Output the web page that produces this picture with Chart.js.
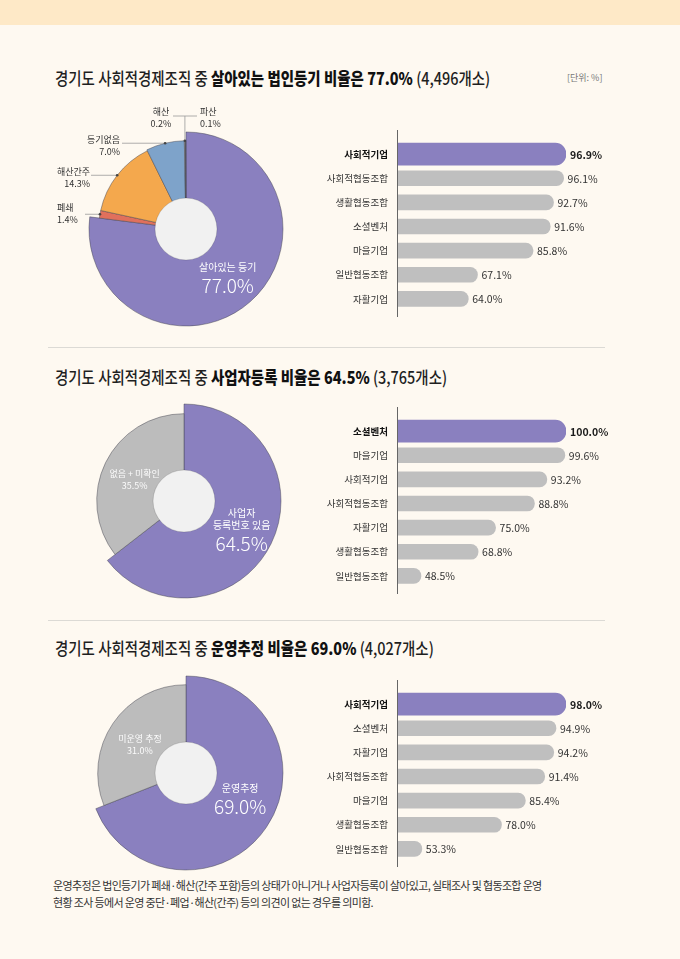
<!DOCTYPE html>
<html><head><meta charset="utf-8">
<script src="https://cdn.jsdelivr.net/npm/chart.js@4.4.1/dist/chart.umd.min.js"></script>
<style>
html,body{margin:0;padding:0;}
body{width:680px;height:959px;background:#fef9f1;position:relative;overflow:hidden;font-family:"Noto Sans CJK KR","Noto Sans",sans-serif;color:#222;}
.band{position:absolute;left:0;top:0;width:680px;height:25px;background:#fee9c7;}
.title{position:absolute;left:55px;font-size:17px;line-height:24px;font-weight:500;white-space:nowrap;transform-origin:left center;transform:scaleX(0.85);color:#1f1f1f;}
.title b{font-weight:900;color:#111;}
.unit{position:absolute;left:567px;top:71px;font-size:9px;color:#777;}
.sep{position:absolute;left:48px;width:557px;height:1px;background:#dcdad5;}
.note{position:absolute;left:53px;top:877px;font-size:11px;line-height:17px;color:#333;letter-spacing:-0.65px;white-space:nowrap;}
canvas{position:absolute;}
</style></head>
<body>
<div class="band"></div>
<div class="title" style="top:66px">경기도 사회적경제조직 중 <b>살아있는 법인등기 비율은 77.0%</b> (4,496개소)</div>
<div class="unit">[단위: %]</div>
<div class="sep" style="top:347px"></div>
<div class="title" style="top:365px">경기도 사회적경제조직 중 <b>사업자등록 비율은 64.5%</b> (3,765개소)</div>
<div class="sep" style="top:620px"></div>
<div class="title" style="top:636px">경기도 사회적경제조직 중 <b>운영추정 비율은 69.0%</b> (4,027개소)</div>
<div class="note">운영추정은 법인등기가 폐쇄·해산(간주 포함)등의 상태가 아니거나 사업자등록이 살아있고, 실태조사 및 협동조합 운영<br>현황 조사 등에서 운영 중단·폐업·해산(간주) 등의 의견이 없는 경우를 의미함.</div>

<canvas id="pie1" width="290" height="260" style="left:41px;top:99px"></canvas>
<canvas id="bar1" width="330" height="210" style="left:300px;top:120px"></canvas>
<canvas id="pie2" width="290" height="260" style="left:39px;top:371px"></canvas>
<canvas id="bar2" width="330" height="210" style="left:300px;top:397px"></canvas>
<canvas id="pie3" width="290" height="260" style="left:41px;top:643px"></canvas>
<canvas id="bar3" width="330" height="210" style="left:300px;top:670px"></canvas>

<script>
// ---------- data ----------
const pie1Labels = ['살아있는 등기','폐쇄','해산간주','등기없음','해산','파산'];
const pie1Values = [77.0, 1.4, 14.3, 7.0, 0.2, 0.1];
const bar1Labels = ['사회적기업','사회적협동조합','생활협동조합','소셜벤처','마을기업','일반협동조합','자활기업'];
const bar1Values = [96.9, 96.1, 92.7, 91.6, 85.8, 67.1, 64.0];

const pie2Labels = ['사업자\n등록번호 있음','없음 + 미확인'];
const pie2Values = [64.5, 35.5];
const bar2Labels = ['소셜벤처','마을기업','사회적기업','사회적협동조합','자활기업','생활협동조합','일반협동조합'];
const bar2Values = [100.0, 99.6, 93.2, 88.8, 75.0, 68.8, 48.5];

const pie3Labels = ['운영추정','미운영 추정'];
const pie3Values = [69.0, 31.0];
const bar3Labels = ['사회적기업','소셜벤처','자활기업','사회적협동조합','마을기업','생활협동조합','일반협동조합'];
const bar3Values = [98.0, 94.9, 94.2, 91.4, 85.4, 78.0, 53.3];

// ---------- style ----------
const FONT = '"Noto Sans CJK KR","Noto Sans",sans-serif';
const PURPLE = '#8a80bf';
const GRAY = '#bfbfbf';
const PIE_GRAY = '#bcbcbc';

const barDeco = {
  id: 'barDeco',
  afterDatasetsDraw(chart) {
    const ctx = chart.ctx, a = chart.chartArea;
    ctx.save();
    ctx.strokeStyle = '#666'; ctx.lineWidth = 1;
    ctx.beginPath();
    ctx.moveTo(a.left + 0.5, a.top - 12);
    ctx.lineTo(a.left + 0.5, a.bottom + 6);
    ctx.stroke();
    ctx.textBaseline = 'middle'; ctx.textAlign = 'left';
    chart.data.datasets.forEach((ds, di) => {
      const meta = chart.getDatasetMeta(di);
      ds.data.forEach((v, i) => {
        if (v === null) return;
        const el = meta.data[i];
        const hi = di === 0;
        ctx.font = (hi ? 'bold 10.5px ' : '10.5px ') + FONT;
        ctx.fillStyle = hi ? '#1a1a1a' : '#333';
        ctx.fillText(v.toFixed(1) + '%', el.x + 4, el.y + 0.5);
      });
    });
    ctx.restore();
  }
};

function makeBar(id, labels, values, xmin) {
  const hi = values.map((v, i) => i === 0 ? v : null);
  const rest = values.map((v, i) => i === 0 ? null : v);
  new Chart(document.getElementById(id), {
    type: 'bar',
    data: { labels, datasets: [
      { data: hi, backgroundColor: PURPLE, barThickness: 22, borderRadius: 11, borderSkipped: 'start', grouped: false },
      { data: rest, backgroundColor: GRAY, barThickness: 15, borderRadius: 7.5, borderSkipped: 'start', grouped: false }
    ]},
    options: {
      indexAxis: 'y', responsive: false, animation: false, events: [],
      layout: { padding: { top: 22, bottom: 19, right: 64, left: 0 } },
      plugins: { legend: { display: false }, tooltip: { enabled: false } },
      scales: {
        x: { display: false, min: xmin, max: Math.max(...values) },
        y: {
          grid: { display: false, drawTicks: false }, border: { display: false },
          afterFit(s) { s.width = 97; },
          ticks: { padding: 9, color: (c) => c.index === 0 ? '#111' : '#333',
                   font: (c) => ({ family: FONT, size: 9.5, weight: c.index === 0 ? 'bold' : 'normal' }) }
        }
      }
    },
    plugins: [barDeco]
  });
}

const pieDeco = {
  id: 'pieDeco',
  afterDatasetsUpdate(chart) {
    const meta = chart.getDatasetMeta(0);
    const f = chart.options.plugins.pieDeco.radii;
    meta.data.forEach((arc, i) => { arc.outerRadius = arc.outerRadius * f[i]; });
  },
  afterDatasetsDraw(chart) {
    const o = chart.options.plugins.pieDeco;
    const ctx = chart.ctx;
    const meta = chart.getDatasetMeta(0);
    const labels = chart.data.labels, values = chart.data.datasets[0].data;
    const c = meta.data[0];
    const cx = c.x, cy = c.y;
    ctx.save();
    // hole
    ctx.beginPath(); ctx.arc(cx, cy, o.hole, 0, Math.PI * 2);
    ctx.fillStyle = '#f1f1f1'; ctx.fill();
    ctx.strokeStyle = 'rgba(0,0,0,0.18)'; ctx.lineWidth = 0.8; ctx.stroke();
    ctx.textAlign = 'center'; ctx.textBaseline = 'middle';
    const midPt = (arc, rf) => {
      const m = (arc.startAngle + arc.endAngle) / 2;
      return { x: arc.x + Math.cos(m) * arc.outerRadius * rf, y: arc.y + Math.sin(m) * arc.outerRadius * rf };
    };
    // main label
    {
      const arc = meta.data[0];
      const p = midPt(arc, 0.65);
      const lines = labels[0].split('\n');
      const n = lines.length;
      const blockH = (n - 1) * 12 + 19 + 16;
      const top = p.y + o.mainShift[1] - blockH / 2 + 6;
      const x = p.x + o.mainShift[0];
      ctx.fillStyle = '#ffffff';
      ctx.font = '10px ' + FONT;
      lines.forEach((t, k) => ctx.fillText(t, x, top + k * 12));
      ctx.font = '300 19px ' + FONT;
      ctx.fillText(values[0].toFixed(1) + '%', x, top + (n - 1) * 12 + 19);
    }
    // secondary inner label
    if (o.second) {
      const arc = meta.data[1];
      const p = midPt(arc, 0.63);
      ctx.fillStyle = 'rgba(255,255,255,0.95)';
      ctx.font = '9px ' + FONT;
      ctx.fillText(labels[1], p.x, p.y + 3 - 6);
      ctx.fillText(values[1].toFixed(1) + '%', p.x, p.y + 3 + 6);
    }
    // outer labels
    (o.outer || []).forEach(L => {
      const arc = meta.data[L.i];
      const A = midPt(arc, 1);
      ctx.strokeStyle = '#9a9a9a'; ctx.lineWidth = 0.8;
      ctx.beginPath();
      if (L.line === 'h') {
        ctx.moveTo(cx + L.lx, A.y); ctx.lineTo(A.x, A.y);
      } else if (L.line === 't') {
        ctx.moveTo(cx + L.lx1, cy + L.ly); ctx.lineTo(cx + L.lx2, cy + L.ly);
        ctx.moveTo(A.x, cy + L.ly); ctx.lineTo(A.x, A.y);
      }
      ctx.stroke();
      if (L.line !== 'none') {
        ctx.beginPath(); ctx.arc(A.x, A.y, 1.3, 0, Math.PI * 2);
        ctx.fillStyle = '#444'; ctx.fill();
      }
      ctx.fillStyle = '#333';
      ctx.font = '9px ' + FONT;
      ctx.textAlign = L.align;
      ctx.fillText(labels[L.i], cx + L.tx, cy + L.ty);
      ctx.fillText(values[L.i].toFixed(1) + '%', cx + L.tx, cy + L.ty + 12);
    });
    ctx.restore();
  }
};

function makePie(id, labels, values, colors, cfg) {
  new Chart(document.getElementById(id), {
    type: 'pie',
    data: { labels, datasets: [{
      data: values, backgroundColor: colors, borderColor: 'rgba(70,70,80,0.6)', borderWidth: 0.8,
      hoverOffset: 0, radius: 97
    }]},
    options: {
      responsive: false, animation: false, events: [], radius: 97,
      plugins: { legend: { display: false }, tooltip: { enabled: false }, pieDeco: cfg }
    },
    plugins: [pieDeco]
  });
}

makePie('pie1', pie1Labels, pie1Values,
  [PURPLE, '#e0705c', '#f4a84d', '#7ea3ca', '#a0a0a0', '#5a5a5a'],
  { radii: [1, 0.9, 0.9, 0.91, 0.91, 0.91], hole: 31, mainShift: [0, 2], second: false,
    outer: [
      { i: 1, tx: -129, ty: -21, align: 'left', line: 'h', lx: -101 },
      { i: 2, tx: -96, ty: -57, align: 'right', line: 'h', lx: -95 },
      { i: 3, tx: -66, ty: -89, align: 'right', line: 'h', lx: -64 },
      { i: 4, tx: -25, ty: -117, align: 'center', line: 't', lx1: -13, lx2: 11, ly: -113 },
      { i: 5, tx: 14, ty: -117, align: 'left', line: 'none' }
    ] });
makeBar('bar1', bar1Labels, bar1Values, 40);

makePie('pie2', pie2Labels, pie2Values, [PURPLE, PIE_GRAY],
  { radii: [1, 0.9], hole: 31, mainShift: [1, 1.5], second: true });
makeBar('bar2', bar2Labels, bar2Values, 40);

makePie('pie3', pie3Labels, pie3Values, [PURPLE, PIE_GRAY],
  { radii: [1, 0.91], hole: 31, mainShift: [2, -9], second: true });
makeBar('bar3', bar3Labels, bar3Values, 45.6);
</script>
</body></html>
